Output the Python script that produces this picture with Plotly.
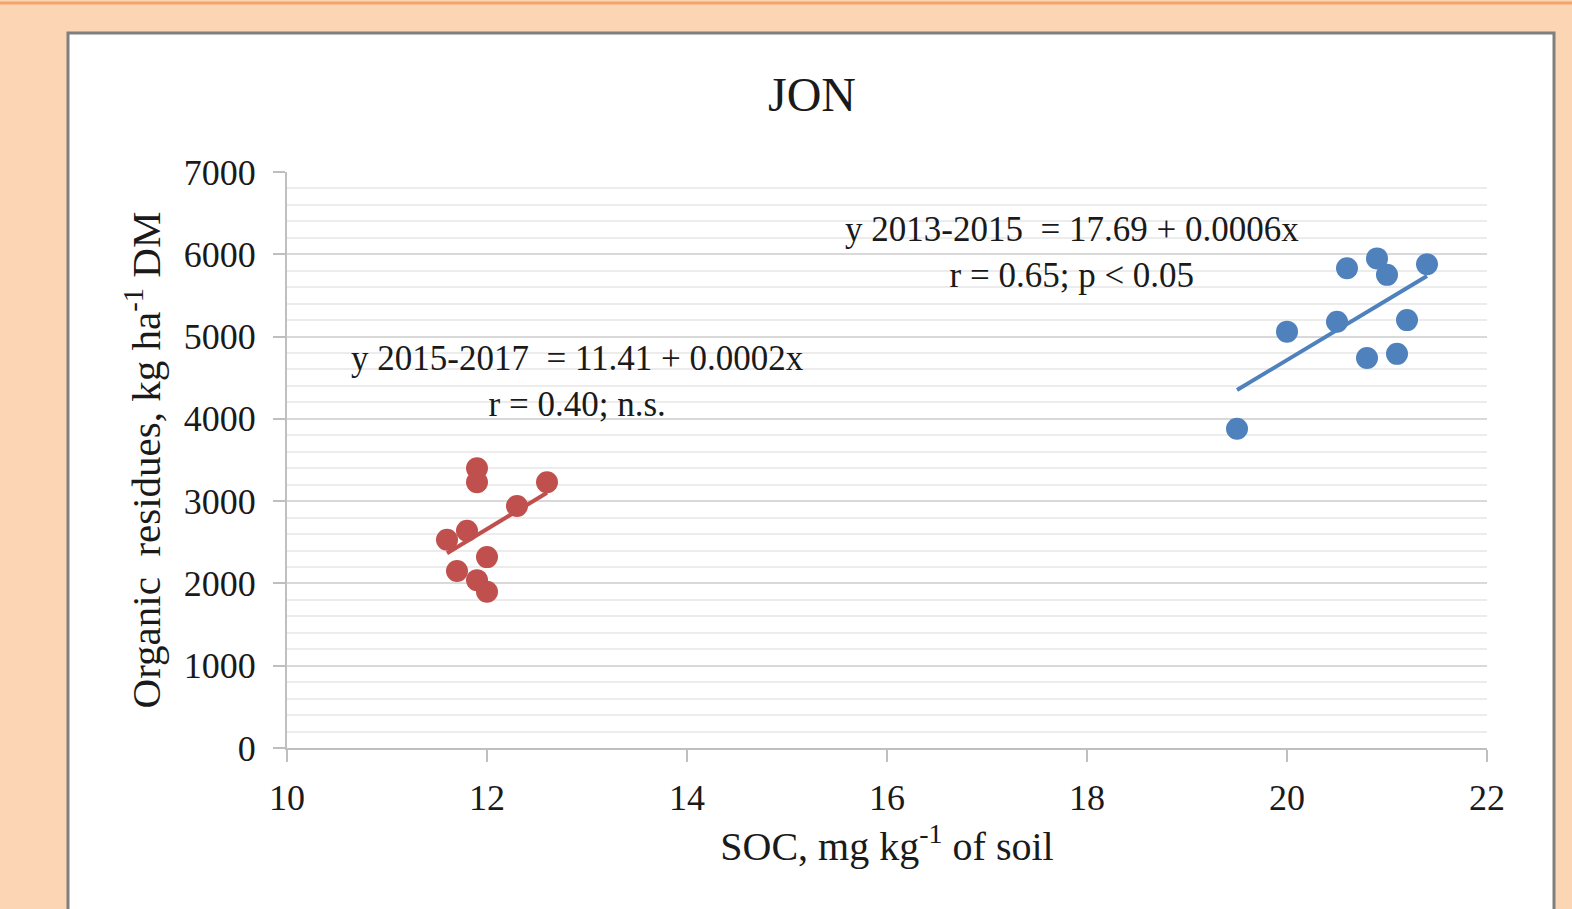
import numpy as np
import plotly.graph_objects as go

# ---- data ----
soc_2015_2017 = [11.6, 11.8, 11.9, 11.9, 12.3, 12.6, 12.0, 11.7, 11.9, 12.0]
res_2015_2017 = [2530, 2640, 3400, 3230, 2940, 3230, 2320, 2150, 2040, 1900]

soc_2013_2015 = [19.5, 20.0, 20.5, 20.6, 20.9, 21.0, 21.4, 21.2, 20.8, 21.1]
res_2013_2015 = [3880, 5060, 5180, 5830, 5950, 5750, 5880, 5200, 4740, 4790]

x_ticks = [10, 12, 14, 16, 18, 20, 22]
y_ticks = [0, 1000, 2000, 3000, 4000, 5000, 6000, 7000]

title_text = "JON"
eq_red = "y 2015-2017 &nbsp;= 11.41 + 0.0002x<br>r = 0.40; n.s."
eq_blue = "y 2013-2015 &nbsp;= 17.69 + 0.0006x<br>r = 0.65; p &lt; 0.05"
x_title = "SOC, mg kg<sup>-1</sup> of soil"
y_title = "Organic &nbsp;residues, kg ha<sup>-1</sup> DM"

RED = "#C0504D"
BLUE = "#4F81BD"
FONT = "Liberation Serif"
TXT = "#1a1a1a"


def trend(xs, ys):
    k, b = np.polyfit(xs, ys, 1)
    xx = np.array([min(xs), max(xs)])
    return xx, k * xx + b


fig = go.Figure()

for xs, ys, col in [(soc_2015_2017, res_2015_2017, RED), (soc_2013_2015, res_2013_2015, BLUE)]:
    tx, ty = trend(xs, ys)
    fig.add_trace(go.Scatter(x=xs, y=ys, mode="markers",
                             marker=dict(color=col, size=22, line=dict(width=0)),
                             showlegend=False, hoverinfo="x+y"))
    fig.add_trace(go.Scatter(x=tx, y=ty, mode="lines",
                             line=dict(color=col, width=4),
                             showlegend=False, hoverinfo="skip"))

L, R, T, B = 287, 85, 172, 161
W, H = 1572, 909
pw, ph = W - L - R, H - T - B


def px_x(p):
    return (p - L) / pw


def px_y(p):
    return (H - B - p) / ph


# white chart panel with grey border
fig.add_shape(type="rect", xref="paper", yref="paper",
              x0=px_x(68), x1=px_x(1554), y0=px_y(930), y1=px_y(33),
              fillcolor="white", line=dict(color="#7F7F7F", width=3), layer="below")
# orange rule at the top
fig.add_shape(type="line", xref="paper", yref="paper",
              x0=px_x(0), x1=px_x(W), y0=px_y(3), y1=px_y(3),
              line=dict(color="#F4A46A", width=3), layer="below")

fig.add_annotation(text=title_text, xref="paper", yref="paper",
                   x=px_x(812), y=px_y(95), xanchor="center", yanchor="middle",
                   showarrow=False,
                   font=dict(family=FONT, size=48, color=TXT))
fig.add_annotation(text=eq_red, x=12.9, y=4459, xanchor="center", yanchor="middle",
                   showarrow=False, align="center",
                   font=dict(family=FONT, size=35, color=TXT))
fig.add_annotation(text=eq_blue, x=17.85, y=6021, xanchor="center", yanchor="middle",
                   showarrow=False, align="center",
                   font=dict(family=FONT, size=35, color=TXT))

fig.update_layout(
    width=W, height=H,
    margin=dict(l=L, r=R, t=T, b=B),
    paper_bgcolor="#FCD5B5",
    plot_bgcolor="rgba(0,0,0,0)",
    font=dict(family=FONT, color=TXT),
    showlegend=False,
)

fig.update_xaxes(range=[10, 22], tickvals=x_ticks, ticktext=[str(v) for v in x_ticks],
                 showgrid=False, zeroline=False,
                 showline=True, linecolor="#BFBFBF", linewidth=2,
                 ticks="outside", ticklen=12, tickwidth=2, tickcolor="#BFBFBF",
                 tickfont=dict(family=FONT, size=36, color=TXT),
                 ticklabelstandoff=5,
                 title=dict(text=x_title, font=dict(family=FONT, size=40, color=TXT), standoff=14))

fig.update_yaxes(range=[0, 7000], tickvals=y_ticks, ticktext=[str(v) for v in y_ticks],
                 showgrid=True, gridcolor="#D9D9D9", gridwidth=2, zeroline=False,
                 minor=dict(dtick=200, showgrid=True, gridcolor="#ECECEC", gridwidth=2),
                 showline=True, linecolor="#BFBFBF", linewidth=2,
                 ticks="outside", ticklen=12, tickwidth=2, tickcolor="#BFBFBF",
                 tickfont=dict(family=FONT, size=36, color=TXT),
                 ticklabelstandoff=10,
                 title=dict(text=y_title, font=dict(family=FONT, size=41, color=TXT), standoff=10))

fig.write_html("out.html", config={"displayModeBar": False},
               post_script="document.body.style.margin='0';document.body.style.overflow='hidden';")
